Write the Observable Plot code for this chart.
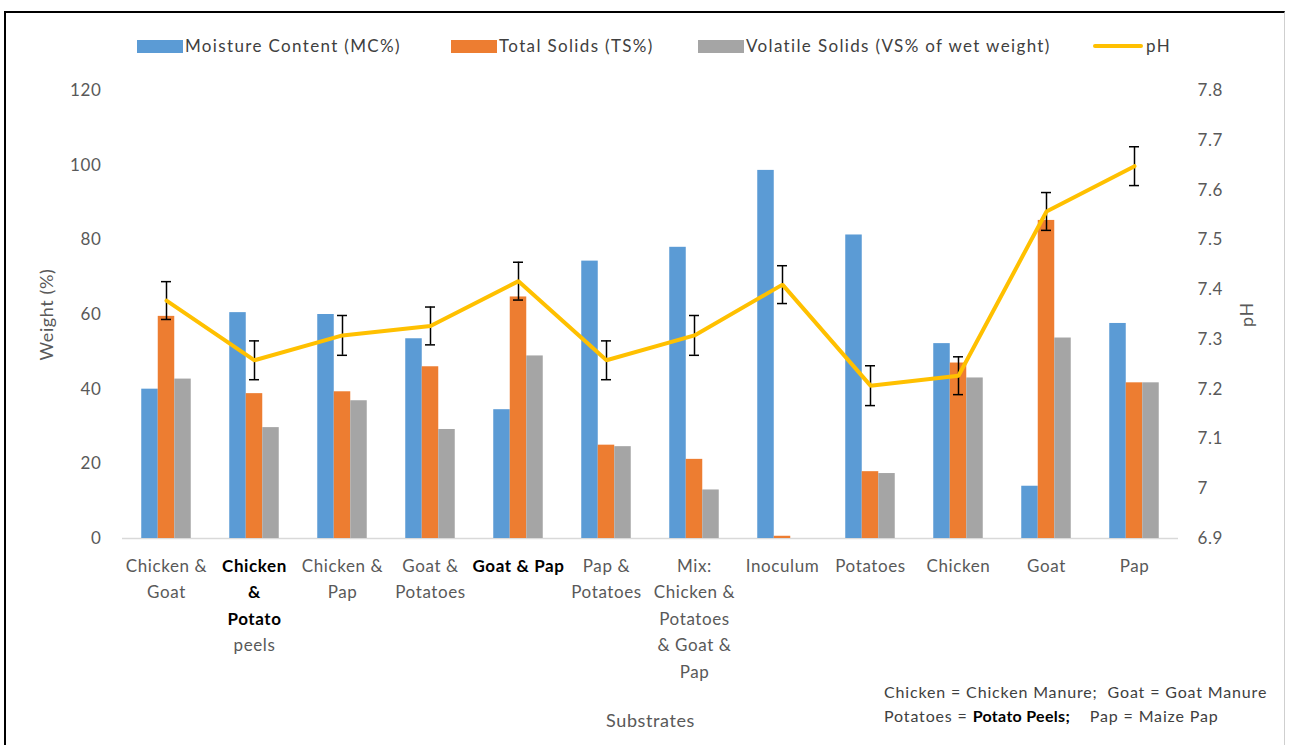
<!DOCTYPE html>
<html>
<head>
<meta charset="utf-8">
<script src="https://cdn.jsdelivr.net/npm/d3@7"></script>
<script src="https://cdn.jsdelivr.net/npm/@observablehq/plot@0.6"></script>
<style>
  html, body { margin: 0; padding: 0; background: #fff; }
  body { font-family: Lato, "Open Sans", sans-serif; }
  #wrap { position: relative; width: 1290px; height: 745px; overflow: hidden; background: #fff; }
  #frame { position: absolute; left: 4px; top: 11px; width: 1281px; height: 760px;
           border-top: 2px solid #000; border-left: 2px solid #000; border-right: 1px solid #cfcfcf; box-sizing: border-box; }
  #legend { position: absolute; left: 0; top: 0; width: 1290px; height: 70px; }
  .item { position: absolute; top: 35px; height: 22px; font-size: 17px; color: #404040; line-height: 22px; white-space: nowrap; letter-spacing: 1.35px; }
  .sw { position: absolute; top: 5px; left: 0; width: 46px; height: 13px; }
  .ln { position: absolute; top: 9px; left: 0; width: 50px; height: 4px; background: #FFC000; border-radius: 2px; }
  .item span.t { position: absolute; top: 0; white-space: nowrap; }
  #chart { position: absolute; left: 0; top: 70px; }
  #chart svg text { letter-spacing: 0.6px; }
  #foot { position: absolute; left: 884px; top: 680px; font-size: 16px; color: #404040; line-height: 24px; white-space: nowrap; letter-spacing: 0.85px; }
  #foot b { color: #000; letter-spacing: 0.3px; }
</style>
</head>
<body>
<div id="wrap">
  <div id="frame"></div>
  <div id="legend"></div>
  <div id="chart"></div>
  <div id="foot">Chicken = Chicken Manure;&nbsp; Goat = Goat Manure<br>Potatoes = <b>Potato Peels;</b>&nbsp;&nbsp;&nbsp; Pap = Maize Pap</div>
</div>
<script>
// ---- data ----
const categories = [
  "Chicken & Goat", "Chicken & Potato peels", "Chicken & Pap", "Goat & Potatoes",
  "Goat & Pap", "Pap & Potatoes", "Mix: Chicken & Potatoes & Goat & Pap",
  "Inoculum", "Potatoes", "Chicken", "Goat", "Pap"
];
const moistureContent = [40, 60.5, 60, 53.5, 34.5, 74.3, 78, 98.6, 81.3, 52.2, 14, 57.6];
const totalSolids     = [59.5, 38.8, 39.3, 46, 64.7, 25, 21.2, 0.6, 17.9, 47, 85.2, 41.7];
const volatileSolids  = [42.7, 29.7, 36.9, 29.2, 48.9, 24.6, 13, 0, 17.4, 43, 53.7, 41.7];
const pH              = [7.378, 7.258, 7.308, 7.327, 7.417, 7.258, 7.308, 7.41, 7.207, 7.227, 7.557, 7.648];
const pHError         = [0.038, 0.039, 0.04, 0.038, 0.038, 0.039, 0.04, 0.038, 0.04, 0.038, 0.038, 0.039];

// tick labels
const weightTicks = [0, 20, 40, 60, 80, 100, 120];
const pHTicks = [6.9, 7.0, 7.1, 7.2, 7.3, 7.4, 7.5, 7.6, 7.7, 7.8];
const pHTickLabels = ["6.9", "7", "7.1", "7.2", "7.3", "7.4", "7.5", "7.6", "7.7", "7.8"];

// x tick labels: lines, bold flag per line
const xLabelLines = [
  [["Chicken &", false], ["Goat", false]],
  [["Chicken", true], ["&", true], ["Potato", true], ["peels", false]],
  [["Chicken &", false], ["Pap", false]],
  [["Goat &", false], ["Potatoes", false]],
  [["Goat & Pap", true]],
  [["Pap &", false], ["Potatoes", false]],
  [["Mix:", false], ["Chicken &", false], ["Potatoes", false], ["& Goat &", false], ["Pap", false]],
  [["Inoculum", false]],
  [["Potatoes", false]],
  [["Chicken", false]],
  [["Goat", false]],
  [["Pap", false]]
];

const seriesNames = ["Moisture Content (MC%)", "Total Solids (TS%)", "Volatile Solids (VS% of wet weight)", "pH"];
const seriesColors = ["#5B9BD5", "#ED7D31", "#A5A5A5", "#FFC000"];

// ---- legend (HTML) ----
const legendX = [137, 451, 698, 1093];
const legend = document.getElementById("legend");
seriesNames.forEach((name, i) => {
  const it = document.createElement("div");
  it.className = "item";
  it.style.left = legendX[i] + "px";
  const sw = document.createElement("div");
  if (i < 3) { sw.className = "sw"; sw.style.background = seriesColors[i]; }
  else { sw.className = "ln"; }
  it.appendChild(sw);
  const t = document.createElement("span");
  t.className = "t";
  t.style.left = (i < 3 ? 48 : 53) + "px";
  t.textContent = name;
  it.appendChild(t);
  legend.appendChild(it);
});

// ---- chart ----
const rows = categories.map((c, i) => ({
  cat: c, mc: moistureContent[i], ts: totalSolids[i], vs: volatileSolids[i], ph: pH[i], err: pHError[i]
}));
// map pH onto the weight scale (secondary axis 6.9–7.8 shares the 0–120 range)
const pHmin = 6.9, pHmax = 7.8, wMax = 120;
const yPH = p => (p - pHmin) / (pHmax - pHmin) * wMax;

const labelRows = [];
xLabelLines.forEach((lines, i) => lines.forEach(([text, bold], k) => labelRows.push({cat: categories[i], text, bold, k})));

const inset = 35.75;
const textMarks = [];
for (let k = 0; k < 5; k++) {
  for (const bold of [false, true]) {
    const d = labelRows.filter(r => r.k === k && r.bold === bold);
    if (!d.length) continue;
    textMarks.push(Plot.text(d, {
      x: "cat", text: "text", frameAnchor: "bottom", dy: 28 + 26.5 * k,
      fontSize: 17, fontWeight: bold ? "bold" : "normal",
      fill: bold ? "#000" : "#595959", lineAnchor: "middle"
    }));
  }
}

const chart = Plot.plot({
  width: 1290,
  height: 675,
  marginTop: 20,
  marginBottom: 207,
  marginLeft: 122,
  marginRight: 112,
  style: { fontFamily: "Lato, 'Open Sans', sans-serif", fontSize: "17px", color: "#595959", background: "transparent" },
  x: { type: "band", domain: categories, padding: 0, axis: null },
  y: { domain: [0, wMax] },
  marks: [
    Plot.axisY(weightTicks, { anchor: "left", tickSize: 0, tickPadding: 21, fontSize: 17, label: null }),
    Plot.axisY(pHTicks.map(yPH), { anchor: "right", tickSize: 0, tickPadding: 19, fontSize: 17, tickFormat: (d, i) => pHTickLabels[i], label: null }),
    Plot.text(["Weight (%)"], { text: d => d, frameAnchor: "left", textAnchor: "middle", dx: -75, rotate: -90, fontSize: 18, fill: "#595959" }),
    Plot.text(["pH"], { text: d => d, frameAnchor: "right", textAnchor: "middle", dx: 69, rotate: -90, fontSize: 18, fill: "#595959" }),
    Plot.ruleY([0], { stroke: "#d9d9d9", strokeWidth: 1.5 }),
    Plot.barY(rows, { x: "cat", y: "mc", fill: seriesColors[0], dx: -16.5, insetLeft: inset, insetRight: inset }),
    Plot.barY(rows, { x: "cat", y: "ts", fill: seriesColors[1], dx: 0, insetLeft: inset, insetRight: inset }),
    Plot.barY(rows, { x: "cat", y: "vs", fill: seriesColors[2], dx: 16.5, insetLeft: inset, insetRight: inset }),
    Plot.ruleX(rows, { x: "cat", y1: d => yPH(d.ph - d.err), y2: d => yPH(d.ph + d.err), stroke: "#000", strokeWidth: 1.5 }),
    Plot.tickY(rows, { x: "cat", y: d => yPH(d.ph + d.err), stroke: "#000", strokeWidth: 1.5, insetLeft: 39, insetRight: 39 }),
    Plot.tickY(rows, { x: "cat", y: d => yPH(d.ph - d.err), stroke: "#000", strokeWidth: 1.5, insetLeft: 39, insetRight: 39 }),
    Plot.line(rows, { x: "cat", y: d => yPH(d.ph), stroke: seriesColors[3], strokeWidth: 4, strokeLinejoin: "miter" }),
    ...textMarks,
    Plot.text(["Substrates"], { text: d => d, frameAnchor: "bottom", dy: 188, fontSize: 18, fill: "#595959" })
  ]
});
document.getElementById("chart").appendChild(chart);
</script>
</body>
</html>
